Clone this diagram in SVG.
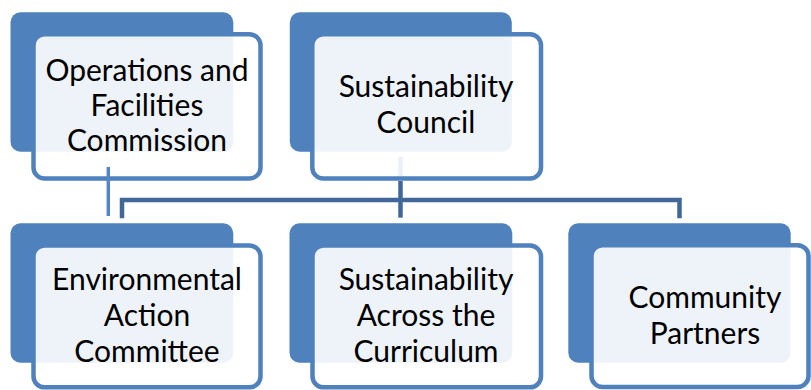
<svg xmlns="http://www.w3.org/2000/svg" width="811" height="390" viewBox="0 0 811 390">
<style>
.back{fill:#4F81BD;}
.front{fill:#FFFFFF;fill-opacity:0.9;stroke:#4F81BD;stroke-width:4.5;}
.lbl{font-family:Lato,"Open Sans","Liberation Sans",sans-serif;font-size:30px;fill:#000000;text-anchor:middle;}
.conn{fill:none;stroke:#41679A;stroke-width:4.5;}
.conn-faded{fill:none;stroke:#EBF0F7;stroke-width:4.5;}
.conn-light{fill:none;stroke:#5686C2;stroke-width:3.5;}
</style>
<rect width="811" height="390" fill="#FFFFFF"/>
<g id="node-operations">
<rect class="back" x="10.5" y="12.3" width="222.8" height="139.4" rx="10"/>
<rect class="front" x="33.5" y="34.3" width="227" height="144.2" rx="11"/>
<text class="lbl" x="147" y="80.5">Operations and</text>
<text class="lbl" x="147" y="115.5">Facilities</text>
<text class="lbl" x="147" y="150.5">Commission</text>
</g>
<g id="node-council">
<rect class="back" x="289.8" y="12.3" width="222" height="139.4" rx="10"/>
<rect class="front" x="312.3" y="34.3" width="228.7" height="144.2" rx="11"/>
<text class="lbl" x="426" y="97">Sustainability</text>
<text class="lbl" x="426" y="133">Council</text>
</g>
<g id="node-environmental">
<rect class="back" x="10.5" y="223.3" width="222.8" height="139.4" rx="10"/>
<rect class="front" x="33.5" y="245.5" width="227" height="141.8" rx="11"/>
<text class="lbl" x="147" y="290">Environmental</text>
<text class="lbl" x="147" y="326">Action</text>
<text class="lbl" x="147" y="361.5">Committee</text>
</g>
<g id="node-curriculum">
<rect class="back" x="289.5" y="223.3" width="222.8" height="139.4" rx="10"/>
<rect class="front" x="312.5" y="245.5" width="228.5" height="141.8" rx="11"/>
<text class="lbl" x="426" y="289.5">Sustainability</text>
<text class="lbl" x="426" y="325.5">Across the</text>
<text class="lbl" x="426" y="361.5">Curriculum</text>
</g>
<g id="node-community">
<rect class="back" x="568.3" y="223.3" width="222.4" height="139.4" rx="10"/>
<rect class="front" x="591.5" y="245.2" width="217" height="141.8" rx="11"/>
<text class="lbl" x="705" y="308.3">Community</text>
<text class="lbl" x="705" y="343.5">Partners</text>
</g>
<g id="connectors">
<path class="conn" d="M122 218.3 V200 H679.5 V218.3"/>
<path class="conn" d="M400.5 181 V217.7"/>
<path class="conn-faded" d="M400.5 156.7 V175.8"/>
<path class="conn-light" d="M108.3 167 V216"/>
</g>
</svg>
